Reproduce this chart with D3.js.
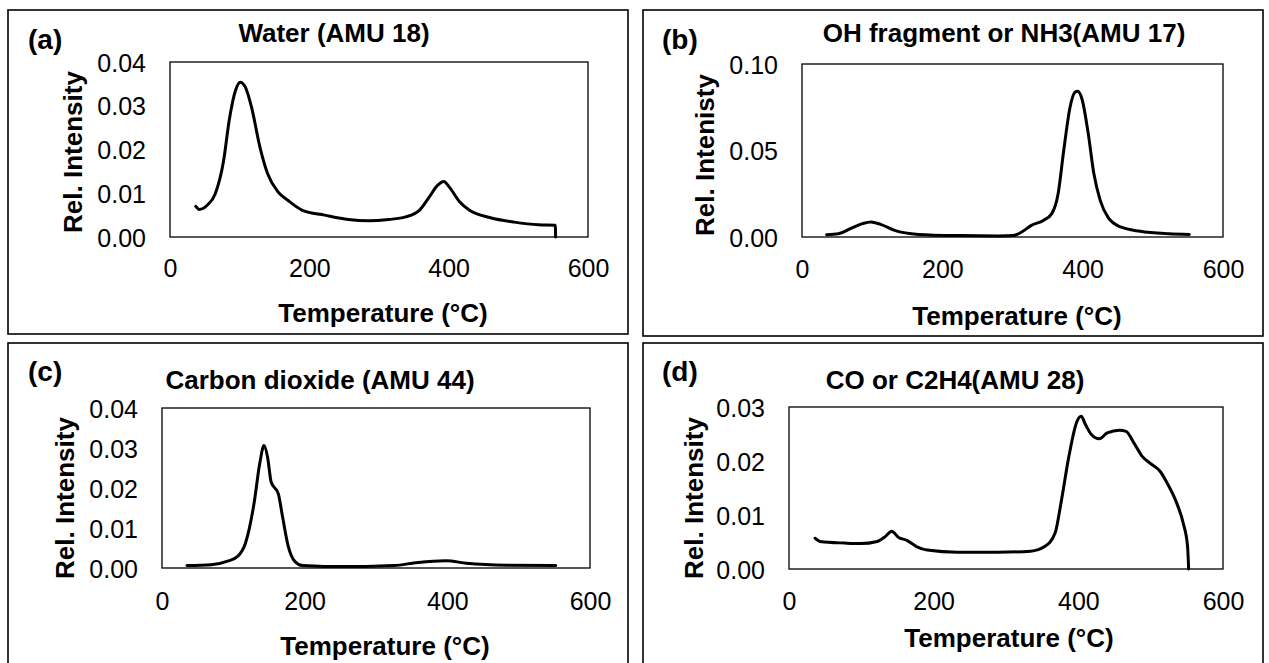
<!DOCTYPE html>
<html>
<head>
<meta charset="utf-8">
<script src="https://cdn.jsdelivr.net/npm/d3@7"></script>
<style>
  html, body { margin: 0; padding: 0; background: #fff; }
  svg { display: block; font-family: "Liberation Sans", Arial, sans-serif; }
</style>
</head>
<body>
<svg id="chart" width="1269" height="663"></svg>
<script>
// ---------------- DATA ----------------
const xTicks = [0, 200, 400, 600];

const titleWater = "Water (AMU 18)";
const tempWater = [37, 42, 53, 65, 77, 85, 94, 101, 108, 117, 129, 140, 155, 169, 190, 222, 256, 285, 314, 338, 358, 372, 384, 393, 401, 416, 430, 460, 494, 529, 553, 553.5];
const intWater  = [0.0070, 0.0063, 0.0072, 0.0099, 0.0175, 0.0267, 0.0335, 0.0354, 0.0343, 0.0297, 0.0206, 0.0145, 0.0103, 0.0084, 0.0061, 0.0050, 0.0040, 0.0037, 0.0040, 0.0046, 0.0061, 0.0091, 0.0118, 0.0127, 0.0114, 0.0080, 0.0061, 0.0044, 0.0034, 0.0028, 0.0027, 0.0];
const yTicksWater = [0, 0.01, 0.02, 0.03, 0.04];

const titleOH = "OH fragment or NH3(AMU 17)";
const tempOH = [35, 52, 69, 86, 98, 112, 132, 166, 224, 281, 301, 313, 327, 344, 356, 365, 373, 382, 389, 393, 399, 408, 416, 425, 436, 454, 482, 523, 552];
const intOH  = [0.0013, 0.0019, 0.0048, 0.0077, 0.0087, 0.0073, 0.0038, 0.0015, 0.0008, 0.0006, 0.0008, 0.0029, 0.0067, 0.0096, 0.0135, 0.0250, 0.0500, 0.0750, 0.0837, 0.0842, 0.0798, 0.0596, 0.0365, 0.0212, 0.0115, 0.0058, 0.0033, 0.0019, 0.0015];
const yTicksOH = [0, 0.05, 0.10];

const titleCO2 = "Carbon dioxide (AMU 44)";
const tempCO2 = [35, 69, 92, 106, 117, 129, 137, 143, 148, 153, 163, 169, 177, 186, 197, 228, 285, 325, 359, 398, 427, 484, 552];
const intCO2  = [0.0006, 0.0008, 0.0017, 0.0029, 0.0062, 0.0161, 0.0261, 0.0306, 0.0277, 0.0215, 0.0186, 0.0128, 0.0054, 0.0017, 0.0006, 0.0004, 0.0004, 0.0006, 0.0014, 0.0018, 0.0012, 0.0007, 0.0006];
const yTicksCO2 = [0, 0.01, 0.02, 0.03, 0.04];

const titleCO = "CO or C2H4(AMU 28)";
const tempCO = [36, 43, 77, 99, 122, 133, 142, 151, 163, 177, 191, 233, 289, 334, 354, 368, 376, 387, 398, 404, 410, 418, 429, 440, 457, 466, 477, 488, 499, 513, 524, 536, 545, 551, 552.5];
const intCO  = [0.0057, 0.0051, 0.0048, 0.0047, 0.0051, 0.0060, 0.0070, 0.0059, 0.0053, 0.0041, 0.0035, 0.0031, 0.0031, 0.0033, 0.0042, 0.0067, 0.0122, 0.0209, 0.0273, 0.0283, 0.0267, 0.0249, 0.0241, 0.0252, 0.0257, 0.0255, 0.0233, 0.0209, 0.0196, 0.0181, 0.0156, 0.0122, 0.0085, 0.0042, 0.0];
const yTicksCO = [0, 0.01, 0.02, 0.03];

const yTitle = "Rel. Intensity";
const yTitleOH = "Rel. Intenisty";
const xTitle = "Temperature (\u00B0C)";
const letters = ["(a)", "(b)", "(c)", "(d)"];

// ---------------- LAYOUT ----------------
const panels = [
  { letter: letters[0], title: titleWater, temp: tempWater, vals: intWater, yTicks: yTicksWater, yMax: 0.04, yTitle: yTitle,
    frame: [8, 10, 628, 334], box: [170, 588, 62, 237], letterXY: [28, 49], titleXY: [334, 42],
    yTitleXY: [82, 152], xTitleXY: [383, 322], xTickBase: 277 },
  { letter: letters[1], title: titleOH, temp: tempOH, vals: intOH, yTicks: yTicksOH, yMax: 0.10, yTitle: yTitleOH,
    frame: [643, 10, 1263, 336], box: [802, 1223, 64, 237], letterXY: [662, 49], titleXY: [1004, 42],
    yTitleXY: [714, 155], xTitleXY: [1017, 325], xTickBase: 278 },
  { letter: letters[2], title: titleCO2, temp: tempCO2, vals: intCO2, yTicks: yTicksCO2, yMax: 0.04, yTitle: yTitle,
    frame: [8, 343, 628, 668], box: [162, 590, 408, 568], letterXY: [28, 381], titleXY: [320, 389],
    yTitleXY: [74, 498], xTitleXY: [385, 655], xTickBase: 610 },
  { letter: letters[3], title: titleCO, temp: tempCO, vals: intCO, yTicks: yTicksCO, yMax: 0.03, yTitle: yTitle,
    frame: [643, 343, 1263, 668], box: [789, 1223, 407, 569], letterXY: [662, 381], titleXY: [955, 389],
    yTitleXY: [703, 498], xTitleXY: [1009, 647], xTickBase: 610 }
];

const svg = d3.select("#chart");
svg.append("rect").attr("width", 1269).attr("height", 663).attr("fill", "#fff");

panels.forEach(p => {
  const g = svg.append("g");
  const [fx0, fy0, fx1, fy1] = p.frame;
  g.append("rect")
    .attr("x", fx0).attr("y", fy0)
    .attr("width", fx1 - fx0).attr("height", fy1 - fy0)
    .attr("fill", "none").attr("stroke", "#000").attr("stroke-width", 1.6);

  const [L, R, T, B] = p.box;
  const x = d3.scaleLinear().domain([0, 600]).range([L, R]);
  const y = d3.scaleLinear().domain([0, p.yMax]).range([B, T]);

  // x axis labels
  const xa = g.append("g").attr("transform", `translate(0,${B})`)
    .call(d3.axisBottom(x).tickValues(xTicks).tickSize(0).tickFormat(d3.format("d")));
  xa.select(".domain").remove();
  xa.selectAll("text")
    .attr("y", p.xTickBase - B).attr("dy", null)
    .attr("font-size", 25).attr("font-family", "Liberation Sans, Arial, sans-serif")
    .attr("fill", "#000");

  // y axis labels
  const ya = g.append("g").attr("transform", `translate(${L},0)`)
    .call(d3.axisLeft(y).tickValues(p.yTicks).tickSize(0).tickFormat(d3.format(".2f")));
  ya.select(".domain").remove();
  ya.selectAll("text")
    .attr("x", -24).attr("dy", "0.36em")
    .attr("font-size", 25).attr("font-family", "Liberation Sans, Arial, sans-serif")
    .attr("fill", "#000");

  // plot box
  g.append("rect")
    .attr("x", L).attr("y", T).attr("width", R - L).attr("height", B - T)
    .attr("fill", "none").attr("stroke", "#000").attr("stroke-width", 1.3);

  // line
  const pts = p.temp.map((t, i) => [t, p.vals[i]]);
  const line = d3.line().x(d => x(d[0])).y(d => y(d[1])).curve(d3.curveMonotoneX);
  g.append("path").datum(pts)
    .attr("d", line)
    .attr("fill", "none").attr("stroke", "#000")
    .attr("stroke-width", 3).attr("stroke-linejoin", "round").attr("stroke-linecap", "round");

  // texts
  g.append("text").attr("x", p.letterXY[0]).attr("y", p.letterXY[1])
    .attr("font-size", 28).attr("font-weight", "bold").text(p.letter);
  g.append("text").attr("x", p.titleXY[0]).attr("y", p.titleXY[1])
    .attr("text-anchor", "middle").attr("font-size", 26).attr("font-weight", "bold").text(p.title);
  g.append("text").attr("transform", `translate(${p.yTitleXY[0]},${p.yTitleXY[1]}) rotate(-90)`)
    .attr("text-anchor", "middle").attr("font-size", 26).attr("font-weight", "bold").text(p.yTitle);
  g.append("text").attr("x", p.xTitleXY[0]).attr("y", p.xTitleXY[1])
    .attr("text-anchor", "middle").attr("font-size", 26).attr("font-weight", "bold").text(xTitle);
});
</script>
</body>
</html>
